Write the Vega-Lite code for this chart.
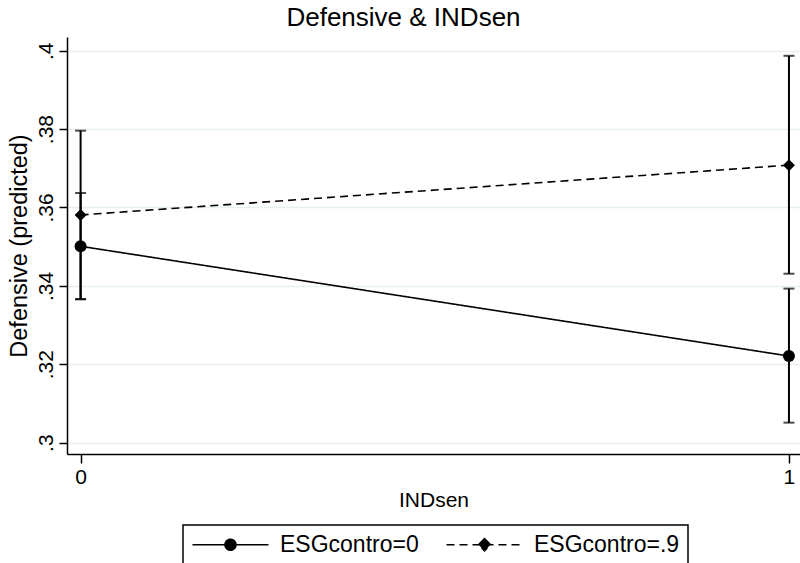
{
  "$schema": "https://vega.github.io/schema/vega-lite/v6.json",
  "width": 733,
  "height": 417,
  "autosize": {"type": "none"},
  "padding": {"left": 67, "top": 37, "right": 0, "bottom": 109},
  "background": "white",
  "title": {
    "text": "Defensive & INDsen",
    "fontSize": 26,
    "font": "Liberation Sans",
    "fontWeight": "normal",
    "color": "black",
    "anchor": "middle",
    "frame": "bounds",
    "baseline": "alphabetic",
    "offset": 10,
    "dy": 25
  },
  "data": {
    "values": [
      {"series": "ESGcontro=0", "x": 0, "y": 0.3501, "lo": 0.3366, "hi": 0.3637},
      {"series": "ESGcontro=0", "x": 1, "y": 0.3221, "lo": 0.3051, "hi": 0.3393},
      {"series": "ESGcontro=.9", "x": 0, "y": 0.3581, "lo": 0.3366, "hi": 0.3796},
      {"series": "ESGcontro=.9", "x": 1, "y": 0.3708, "lo": 0.3431, "hi": 0.3987}
    ]
  },
  "encoding": {
    "x": {
      "field": "x",
      "type": "quantitative",
      "scale": {"domain": [-0.0192, 1.0156], "nice": false, "zero": false},
      "axis": {
        "title": "INDsen",
        "values": [0, 1],
        "format": "d",
        "grid": false,
        "domainColor": "black",
        "domainWidth": 1.5,
        "tickColor": "black",
        "tickWidth": 1.5,
        "tickSize": 9,
        "labelFontSize": 21,
        "labelFont": "Liberation Sans",
        "labelColor": "black",
        "labelPadding": 3,
        "titleFontSize": 21,
        "titleFont": "Liberation Sans",
        "titleFontWeight": "normal",
        "titleColor": "black",
        "titlePadding": 2
      }
    },
    "y": {
      "field": "y",
      "type": "quantitative",
      "scale": {"domain": [0.2971, 0.4035], "nice": false, "zero": false},
      "axis": {
        "title": "Defensive (predicted)",
        "values": [0.3, 0.32, 0.34, 0.36, 0.38, 0.4],
        "labelExpr": "substring(format(datum.value, '.2~f'), 1)",
        "grid": true,
        "gridColor": "#e6eff1",
        "gridWidth": 1.5,
        "domainColor": "black",
        "domainWidth": 1.5,
        "tickColor": "black",
        "tickWidth": 1.5,
        "tickSize": 8,
        "labelAngle": -90,
        "labelAlign": "center",
        "labelBaseline": "alphabetic",
        "labelFontSize": 21,
        "labelFont": "Liberation Sans",
        "labelColor": "black",
        "labelPadding": 7,
        "titleFontSize": 23.5,
        "titleFont": "Liberation Sans",
        "titleFontWeight": "normal",
        "titleColor": "black",
        "titlePadding": 4
      }
    }
  },
  "layer": [
    {
      "mark": {"type": "rule", "color": "black", "strokeWidth": 2},
      "encoding": {"y": {"field": "lo", "type": "quantitative"}, "y2": {"field": "hi"}}
    },
    {
      "mark": {"type": "tick", "orient": "horizontal", "color": "black", "size": 11, "thickness": 2},
      "encoding": {"y": {"field": "lo", "type": "quantitative"}}
    },
    {
      "mark": {"type": "tick", "orient": "horizontal", "color": "black", "size": 11, "thickness": 2},
      "encoding": {"y": {"field": "hi", "type": "quantitative"}}
    },
    {
      "mark": {"type": "line", "color": "black", "strokeWidth": 1.6},
      "encoding": {
        "detail": {"field": "series"},
        "strokeDash": {
          "field": "series",
          "type": "nominal",
          "scale": {"domain": ["ESGcontro=0", "ESGcontro=.9"], "range": [[1, 0], [8, 5]]},
          "legend": {
            "title": null,
            "orient": "none",
            "legendX": 116,
            "legendY": 488,
            "direction": "horizontal",
            "strokeColor": "black",
            "fillColor": "white",
            "padding": 8,
            "symbolSize": 400,
            "symbolStrokeWidth": 1.6,
            "symbolStrokeColor": "black",
            "symbolFillColor": "black",
            "labelOffset": 66,
            "labelFontSize": 23,
            "labelFont": "Liberation Sans",
            "labelColor": "black",
            "labelLimit": 400,
            "columnPadding": 24,
            "encode": {
              "legend": {
                "update": {"strokeWidth": {"value": 1.5}}
              },
              "symbols": {
                "update": {
                  "shape": {"signal": "datum.value == 'ESGcontro=0' ? 'M-1,0L6.6,0M2.25,0A0.55,0.55,0,1,1,3.35,0A0.55,0.55,0,1,1,2.25,0Z' : 'M-1,0L6.6,0M2.8,-0.6L3.4,0L2.8,0.6L2.2,0Z'"},
                  "fill": {"value": "black"},
                  "stroke": {"value": "black"},
                  "opacity": {"value": 1}
                }
              }
            }
          }
        }
      }
    },
    {
      "mark": {"type": "point", "filled": true, "color": "black", "size": 144, "opacity": 1},
      "encoding": {
        "shape": {
          "condition": {"test": "datum.series == 'ESGcontro=0'", "value": "circle"},
          "value": "diamond"
        }
      }
    }
  ],
  "config": {
    "view": {"stroke": null},
    "font": "Liberation Sans"
  }
}
